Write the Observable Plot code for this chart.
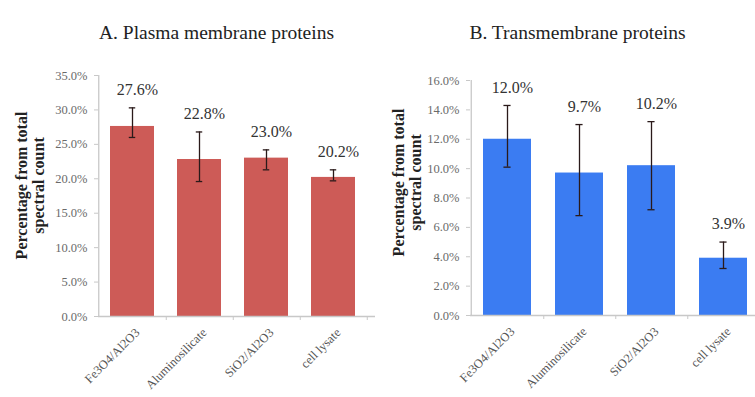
<!DOCTYPE html>
<html>
<head>
<meta charset="utf-8">
<script src="https://cdn.jsdelivr.net/npm/d3@7"></script>
<script src="https://cdn.jsdelivr.net/npm/@observablehq/plot@0.6"></script>
<style>
  html, body { margin: 0; padding: 0; background: #fff; }
  #wrap { display: flex; width: 755px; height: 397px; overflow: hidden; }
  #wrap svg { display: block; flex: none; }
</style>
</head>
<body>
<div id="wrap"></div>
<script>
const categories = ["Fe3O4/Al2O3", "Aluminosilicate", "SiO2/Al2O3", "cell lysate"];

const plasmaValues = [27.6, 22.8, 23.0, 20.2];
const plasmaErrHigh = [30.3, 26.8, 24.2, 21.3];
const plasmaErrLow = [26.0, 19.6, 21.3, 19.7];
const plasmaTicks = [0, 5, 10, 15, 20, 25, 30, 35];

const transValues = [12.0, 9.7, 10.2, 3.9];
const transErrHigh = [14.3, 13.0, 13.2, 5.0];
const transErrLow = [10.1, 6.8, 7.2, 3.2];
const transTicks = [0, 2, 4, 6, 8, 10, 12, 14, 16];

const titles = ["A. Plasma membrane proteins", "B. Transmembrane proteins"];
const yLabel = ["Percentage from total", "spectral count"];

const serif = "Liberation Serif, Times New Roman, DejaVu Serif, serif";
const axisGray = "#c8c8c8";

function panel(opts) {
  const data = categories.map((c, i) => ({
    cat: c, v: opts.values[i], hi: opts.hi[i], lo: opts.lo[i]
  }));
  const W = opts.width, H = 397;
  const yMax = opts.ticks[opts.ticks.length - 1];
  const step = (opts.xRange[1] - opts.xRange[0]) / categories.length;
  const capHalf = 3.5;
  const bw = step * 0.66;
  return Plot.plot({
    width: W, height: H,
    marginTop: opts.mt, marginBottom: H - opts.y0, marginLeft: opts.ml, marginRight: 0,
    style: { fontFamily: serif, background: "white", overflow: "visible" },
    x: { domain: categories, range: opts.xRange, paddingInner: 0.34, paddingOuter: 0.17, align: 0.5, axis: null },
    y: { domain: [0, yMax], axis: null },
    marks: [
      // bars
      Plot.barY(data, { x: "cat", y: "v", fill: opts.color }),
      // y axis line (at left edge of first band)
      Plot.ruleX([categories[0]], { x: d => d, dx: -step / 2, y1: 0, y2: yMax, stroke: axisGray, strokeWidth: 1.3 }),
      // x baseline
      Plot.ruleY([0], { stroke: axisGray, strokeWidth: 1.3 }),
      // x boundary ticks
      Plot.ruleX(categories, { x: d => d, dx: step / 2, y1: 0, y2: 0, insetBottom: -4, stroke: axisGray, strokeWidth: 1 }),
      // y axis ticks & labels
      Plot.axisY({
        ticks: opts.ticks, tickSize: 4, tickPadding: 7, anchor: "left",
        tickFormat: d => d.toFixed(1) + "%", stroke: axisGray, fill: "#6a6a6a",
        fontSize: 12.5, fontFamily: serif, label: null
      }),
      // error bars
      Plot.ruleX(data, { x: "cat", y1: "lo", y2: "hi", stroke: "#2a1a1a", strokeWidth: 1.3 }),
      Plot.tickY(data, { x: "cat", y: "hi", stroke: "#2a1a1a", strokeWidth: 1.3, inset: bw / 2 - capHalf }),
      Plot.tickY(data, { x: "cat", y: "lo", stroke: "#2a1a1a", strokeWidth: 1.3, inset: bw / 2 - capHalf }),
      // value labels
      Plot.text(data, {
        x: "cat", y: "hi", dy: -18, dx: 5, text: d => d.v.toFixed(1) + "%",
        fontSize: 16, fill: "#333", fontFamily: serif
      }),
      // category labels
      Plot.text(data, {
        x: "cat", y: 0, text: "cat", rotate: -45, textAnchor: "end",
        dy: 14, dx: 5, fontSize: 12.5, fill: "#555", fontFamily: serif
      }),
      // title
      Plot.text([titles[opts.idx]], {
        frameAnchor: "top-left", dx: opts.titleX - opts.ml, dy: 25 - opts.mt,
        textAnchor: "middle", fontSize: 19.5, fill: "#222", fontFamily: serif
      }),
      // y label
      Plot.text([yLabel.join("\n")], {
        frameAnchor: "top-left", dx: opts.ylx - opts.ml, dy: opts.yly - opts.mt,
        rotate: -90, textAnchor: "middle", fontSize: 16, fontWeight: "bold",
        lineHeight: 1.05, fill: "#222", fontFamily: serif
      })
    ]
  });
}

const wrap = document.getElementById("wrap");

const left = panel({
  idx: 0, width: 375, ml: 98, mt: 75, y0: 316, xRange: [98, 368],
  values: plasmaValues, hi: plasmaErrHigh, lo: plasmaErrLow, ticks: plasmaTicks,
  color: "#cd5b57", titleX: 216, ylx: 15, yly: 185
});
const right = panel({
  idx: 1, width: 380, ml: 95, mt: 80, y0: 315, xRange: [95, 385],
  values: transValues, hi: transErrHigh, lo: transErrLow, ticks: transTicks,
  color: "#3b7cf2", titleX: 202, ylx: 17, yly: 182
});
wrap.appendChild(left);
wrap.appendChild(right);
</script>
</body>
</html>
